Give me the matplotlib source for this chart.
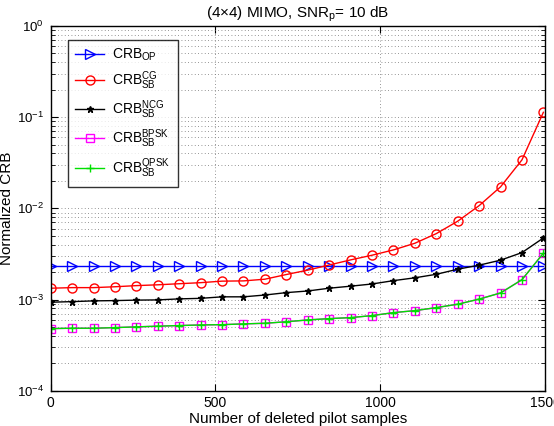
import matplotlib
matplotlib.use("Agg")
import matplotlib.pyplot as plt
import numpy as np
from matplotlib.ticker import LogLocator, FixedLocator

plt.rcParams['font.family'] = ['Liberation Sans', 'DejaVu Sans']
plt.rcParams['mathtext.fontset'] = 'custom'
plt.rcParams['mathtext.rm'] = 'Liberation Sans'
plt.rcParams['mathtext.it'] = 'Liberation Sans:italic'
plt.rcParams['mathtext.bf'] = 'Liberation Sans:bold'

# Data
deleted = list(range(0, 1500, 65))  # 0, 65, ..., 1495
crb_op = [2.34e-3] * 24
crb_cg = [1.33e-3, 1.35e-3, 1.35e-3, 1.38e-3, 1.42e-3, 1.45e-3, 1.49e-3, 1.53e-3,
          1.59e-3, 1.60e-3, 1.67e-3, 1.88e-3, 2.10e-3, 2.39e-3, 2.72e-3, 3.06e-3,
          3.50e-3, 4.14e-3, 5.28e-3, 7.22e-3, 1.07e-2, 1.72e-2, 3.40e-2, 1.13e-1]
crb_ncg = [9.34e-4, 9.48e-4, 9.66e-4, 9.73e-4, 9.85e-4, 9.90e-4, 1.016e-3, 1.03e-3,
           1.07e-3, 1.07e-3, 1.12e-3, 1.19e-3, 1.24e-3, 1.33e-3, 1.40e-3, 1.48e-3,
           1.61e-3, 1.73e-3, 1.89e-3, 2.15e-3, 2.38e-3, 2.70e-3, 3.27e-3, 4.73e-3]
crb_bpsk = [4.80e-4, 4.84e-4, 4.84e-4, 4.92e-4, 5.01e-4, 5.10e-4, 5.18e-4, 5.26e-4,
            5.30e-4, 5.40e-4, 5.49e-4, 5.70e-4, 5.97e-4, 6.17e-4, 6.33e-4, 6.66e-4,
            7.18e-4, 7.55e-4, 8.15e-4, 8.88e-4, 1.01e-3, 1.18e-3, 1.65e-3, 3.22e-3]
crb_qpsk = [4.80e-4, 4.84e-4, 4.84e-4, 4.92e-4, 5.01e-4, 5.10e-4, 5.18e-4, 5.26e-4,
            5.30e-4, 5.40e-4, 5.49e-4, 5.70e-4, 5.97e-4, 6.17e-4, 6.33e-4, 6.66e-4,
            7.18e-4, 7.55e-4, 8.15e-4, 8.88e-4, 1.01e-3, 1.18e-3, 1.65e-3, 3.22e-3]

labels = [r'CRB$_{\mathrm{OP}}$', r'CRB$_{\mathrm{SB}}^{\mathrm{CG}}$',
          r'CRB$_{\mathrm{SB}}^{\mathrm{NCG}}$', r'CRB$_{\mathrm{SB}}^{\mathrm{BPSK}}$',
          r'CRB$_{\mathrm{SB}}^{\mathrm{QPSK}}$']
xticks = [0, 500, 1000, 1500]

fig = plt.figure(figsize=(5.54, 4.26), dpi=100)
ax = fig.add_axes([0.0915, 0.0829, 0.8923, 0.8561])

lw = 1.0
ax.semilogy(deleted, crb_op, color='#0000ff', marker='>', mfc='none', ms=6.5, mew=1.0, lw=lw, label=labels[0])
ax.semilogy(deleted, crb_cg, color='#ff0000', marker='o', mfc='none', ms=6.5, mew=1.0, lw=lw, label=labels[1])
ax.semilogy(deleted, crb_ncg, color='black', marker='*', ms=5, mew=1.0, lw=lw, label=labels[2])
ax.semilogy(deleted, crb_bpsk, color='#ff00ff', marker='s', mfc='none', ms=6, mew=1.0, lw=lw, label=labels[3])
ax.semilogy(deleted, crb_qpsk, color='#00e000', marker='+', ms=6, mew=1.0, lw=lw, label=labels[4])

ax.set_xlim(0, 1500)
ax.set_ylim(1e-4, 1e0)
ax.xaxis.set_major_locator(FixedLocator(xticks))
ax.set_xticklabels([str(t) for t in xticks])
ax.yaxis.set_major_locator(LogLocator(base=10, numticks=10))
ax.yaxis.set_minor_locator(LogLocator(base=10, subs=np.arange(2, 10), numticks=50))

gstyle = dict(linestyle=(0, (1, 3)), color='0.45', linewidth=0.6)
ax.grid(True, which='major', axis='both', **gstyle)
ax.grid(True, which='minor', axis='y', **gstyle)

ax.tick_params(which='both', direction='in', top=True, right=True, labelsize=10)
ax.tick_params(which='major', length=5)
ax.tick_params(which='minor', length=3)
ax.tick_params(axis='y', labelsize=9.5, pad=5)
for s in ax.spines.values():
    s.set_linewidth(1.0)

ax.set_xlabel('Number of deleted pilot samples', fontsize=11, labelpad=2)
ax.set_ylabel('Normalized CRB', fontsize=11)
ax.yaxis.set_label_coords(-0.074, 0.5)
ax.set_title(r'(4$\times$4) MIMO, SNR$_{\mathrm{p}}$= 10 dB', fontsize=11, pad=6)

leg = ax.legend(loc='upper left', bbox_to_anchor=(0.035, 0.962), borderaxespad=0,
                fontsize=10, frameon=True, fancybox=False, edgecolor='black',
                handlelength=2.1, labelspacing=0.45, borderpad=0.5, handletextpad=0.6)
leg.get_frame().set_linewidth(1.0)

fig.savefig('out.png', dpi=100)
